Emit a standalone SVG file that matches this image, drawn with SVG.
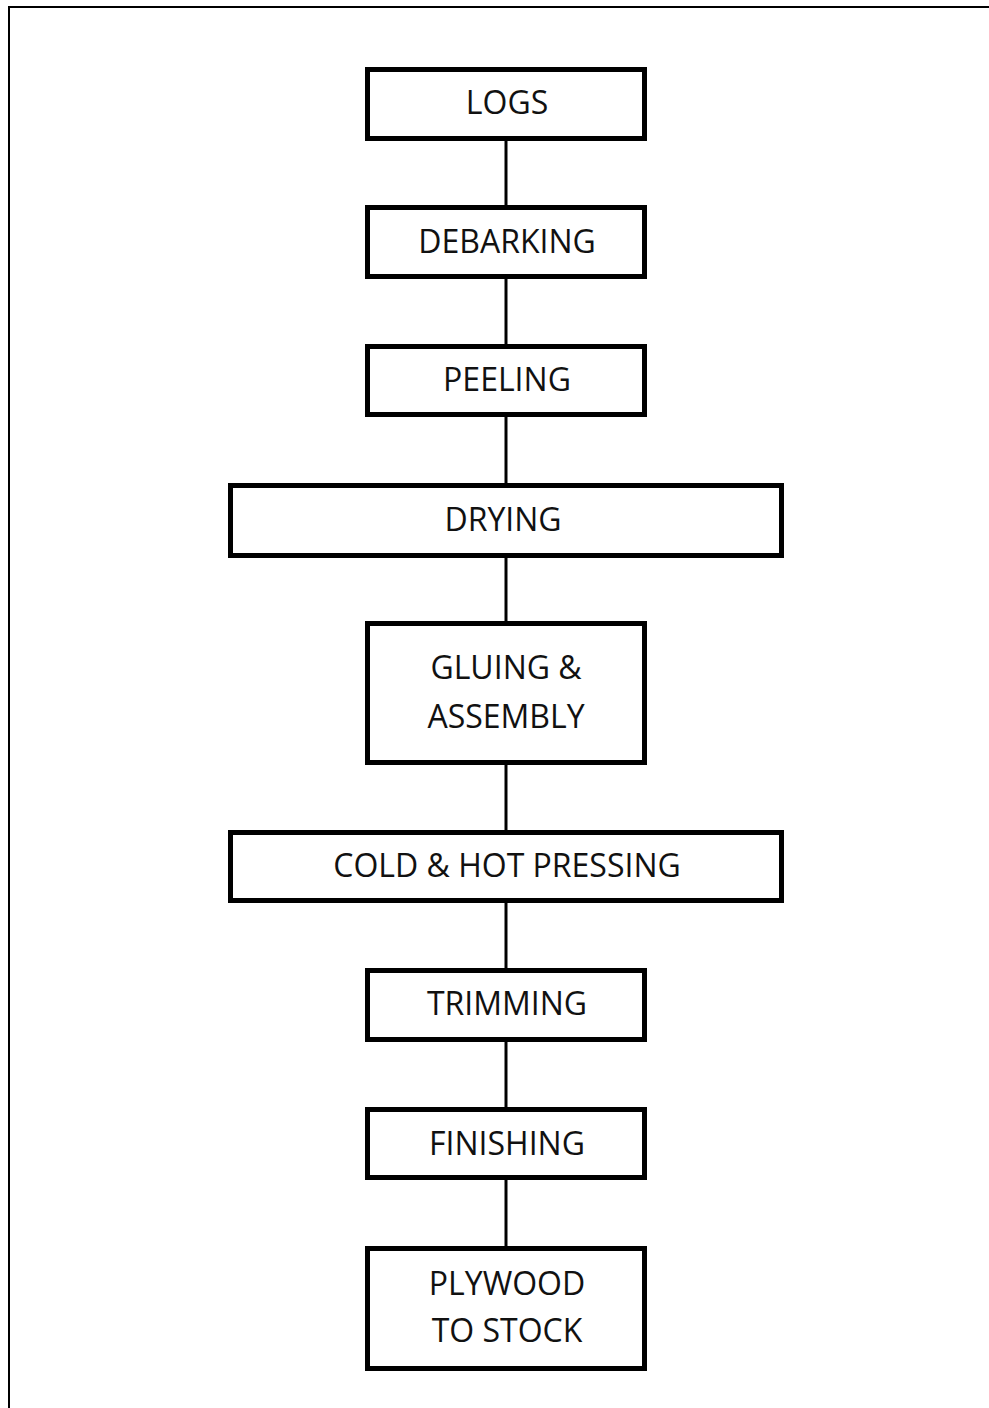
<svg xmlns="http://www.w3.org/2000/svg" width="989" height="1408" viewBox="0 0 989 1408">
<style>
.box{fill:#fff;stroke:#000;stroke-width:5}
.lbl{font-family:"Open Sans",Lato,sans-serif;font-size:32px;fill:#111;text-anchor:middle}
.conn line{stroke:#000;stroke-width:3}
</style>
<rect width="989" height="1408" fill="#fff"/>
<path d="M9 1408 V7 H989" fill="none" stroke="#000" stroke-width="2"/>
<g class="conn" id="connectors">
<line x1="506" y1="141" x2="506" y2="205"/>
<line x1="506" y1="279" x2="506" y2="344"/>
<line x1="506" y1="417" x2="506" y2="483"/>
<line x1="506" y1="558" x2="506" y2="621"/>
<line x1="506" y1="765" x2="506" y2="830"/>
<line x1="506" y1="903" x2="506" y2="968"/>
<line x1="506" y1="1042" x2="506" y2="1107"/>
<line x1="506" y1="1180" x2="506" y2="1246"/>
</g>
<g id="logs"><rect class="box" x="367.5" y="69.5" width="277" height="69"/><text class="lbl" x="507" y="114">LOGS</text></g>
<g id="debarking"><rect class="box" x="367.5" y="207.5" width="277" height="69"/><text class="lbl" x="507" y="253">DEBARKING</text></g>
<g id="peeling"><rect class="box" x="367.5" y="346.5" width="277" height="68"/><text class="lbl" x="507" y="391">PEELING</text></g>
<g id="drying"><rect class="box" x="230.5" y="485.5" width="551" height="70"/><text class="lbl" x="503" y="531">DRYING</text></g>
<g id="gluing"><rect class="box" x="367.5" y="623.5" width="277" height="139"/><text class="lbl" x="506" y="679">GLUING &amp;</text><text class="lbl" x="506" y="728">ASSEMBLY</text></g>
<g id="pressing"><rect class="box" x="230.5" y="832.5" width="551" height="68"/><text class="lbl" x="507" y="877">COLD &amp; HOT PRESSING</text></g>
<g id="trimming"><rect class="box" x="367.5" y="970.5" width="277" height="69"/><text class="lbl" x="507" y="1015">TRIMMING</text></g>
<g id="finishing"><rect class="box" x="367.5" y="1109.5" width="277" height="68"/><text class="lbl" x="507" y="1155">FINISHING</text></g>
<g id="plywood"><rect class="box" x="367.5" y="1248.5" width="277" height="120"/><text class="lbl" x="507" y="1295">PLYWOOD</text><text class="lbl" x="507" y="1342">TO STOCK</text></g>
</svg>
